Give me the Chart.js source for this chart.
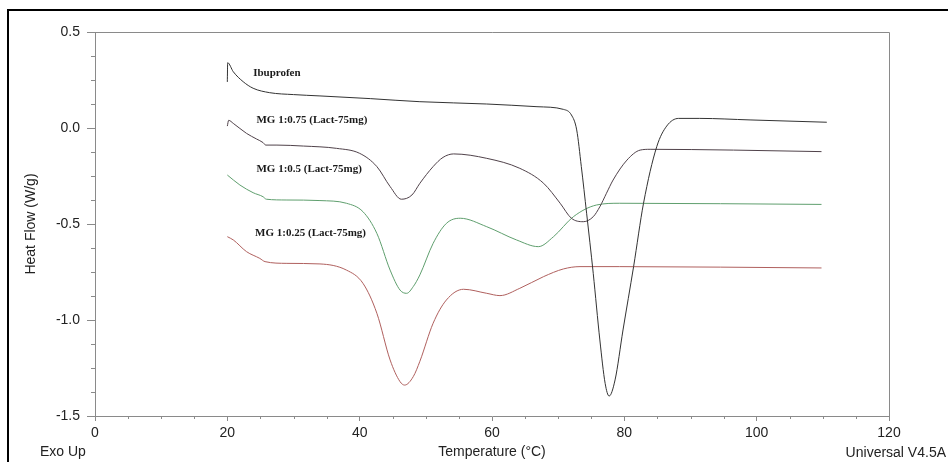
<!DOCTYPE html>
<html>
<head>
<meta charset="utf-8">
<script src="https://cdn.jsdelivr.net/npm/chart.js@4"></script>
<style>
  html, body { margin: 0; padding: 0; background: #fff; }
  #wrap { width: 948px; height: 462px; }
</style>
</head>
<body>
<div id="wrap"><canvas id="dscChart" width="948" height="462"></canvas></div>
<script>
// DSC traces (temperature in °C, heat flow in W/g)
const ibuTemp = [20.0, 20.05, 20.9, 22.4, 23.9, 26.4, 30, 34, 41.6, 49.1, 59.2, 66.8, 70.8, 72.0, 72.8, 73.5, 74.3, 75.3, 76.3, 77.1, 77.7, 78.6, 79.8, 81.4, 82.9, 84.9, 86.4, 88.2, 91.4, 99.0, 110.6];
const ibuHF = [0.24, 0.34, 0.293, 0.241, 0.207, 0.184, 0.174, 0.167, 0.153, 0.137, 0.125, 0.111, 0.097, 0.068, -0.010, -0.201, -0.444, -0.757, -1.104, -1.33, -1.396, -1.312, -1.052, -0.722, -0.392, -0.097, 0.010, 0.050, 0.050, 0.042, 0.030];

const mg075Temp = [20.0, 20.2, 20.9, 22.9, 24.4, 25.4, 25.8, 27.5, 31.5, 36.5, 40.0, 42.6, 44.6, 46.3, 47.9, 49.1, 51.1, 52.6, 54.2, 59.2, 64.2, 67.8, 70.3, 72.0, 73.8, 75.3, 76.3, 77.3, 78.3, 80.4, 82.4, 83.9, 96.5, 109.8];
const mg075HF = [0.01, 0.04, 0.024, -0.028, -0.057, -0.076, -0.089, -0.089, -0.094, -0.106, -0.132, -0.201, -0.305, -0.371, -0.349, -0.288, -0.201, -0.153, -0.135, -0.158, -0.210, -0.288, -0.392, -0.470, -0.488, -0.462, -0.41, -0.34, -0.271, -0.167, -0.115, -0.111, -0.115, -0.123];

const mg05Temp = [20.0, 21.9, 23.9, 25.4, 25.9, 29, 34, 38, 40.5, 42.6, 44.6, 46.1, 47.1, 48.1, 49.1, 51.1, 53.1, 55.2, 59.2, 63.7, 67.0, 69.3, 72.3, 75.8, 79.3, 109.8];
const mg05HF = [-0.245, -0.297, -0.337, -0.358, -0.371, -0.375, -0.378, -0.392, -0.436, -0.549, -0.740, -0.844, -0.861, -0.826, -0.765, -0.601, -0.497, -0.470, -0.514, -0.583, -0.618, -0.566, -0.462, -0.401, -0.392, -0.398];

const mg025Temp = [20.0, 20.9, 22.9, 24.9, 25.7, 29, 34, 38, 40.5, 42.6, 44.6, 46.1, 46.8, 48.1, 49.1, 51.1, 53.1, 55.7, 59.2, 61.2, 64.2, 67.8, 70.8, 73.3, 79.3, 109.8];
const mg025HF = [-0.566, -0.583, -0.644, -0.679, -0.696, -0.705, -0.708, -0.740, -0.809, -0.965, -1.208, -1.321, -1.339, -1.295, -1.215, -1.017, -0.896, -0.840, -0.861, -0.873, -0.835, -0.774, -0.734, -0.722, -0.722, -0.729];

// curve labels, placed at (temperature, heat flow)
const noteText = ['Ibuprofen', 'MG 1:0.75 (Lact-75mg)', 'MG 1:0.5 (Lact-75mg)', 'MG 1:0.25 (Lact-75mg)'];
const noteTemp = [23.9, 24.4, 24.4, 24.2];
const noteHF = [0.286, 0.042, -0.214, -0.547];

// axis ticks
const xMajor = [0, 20, 40, 60, 80, 100, 120];
const yMajor = [-1.5, -1.0, -0.5, 0.0, 0.5];

const pts = (xs, ys) => xs.map((x, i) => ({ x: x, y: ys[i] }));
const sans = '"Liberation Sans", Arial, sans-serif';
const axisGray = '#8a8a8a';
const textCol = '#222';

const decor = {
  id: 'decor',
  beforeDraw(chart) {
    const c = chart.ctx;
    c.save();
    c.fillStyle = '#fff';
    c.fillRect(0, 0, chart.width, chart.height);
    c.restore();
  },
  afterDraw(chart) {
    const c = chart.ctx;
    const a = chart.chartArea;
    const xs = chart.scales.x, ys = chart.scales.y;
    c.save();
    // top and right sides of the plot box
    c.strokeStyle = axisGray;
    c.lineWidth = 1;
    c.beginPath();
    c.moveTo(a.left, a.top + 0.5);
    c.lineTo(a.right + 0.5, a.top + 0.5);
    c.lineTo(a.right + 0.5, a.bottom);
    c.stroke();
    // minor ticks
    c.beginPath();
    for (let v = 0; v <= 120; v += 5) {
      if (v % 20 === 0) continue;
      const px = Math.round(xs.getPixelForValue(v)) + 0.5;
      c.moveTo(px, a.bottom);
      c.lineTo(px, a.bottom + 3);
    }
    for (let v = -1.5; v <= 0.5; v += 0.125) {
      if (Math.abs(v * 2 - Math.round(v * 2)) < 1e-6) continue;
      const py = Math.round(ys.getPixelForValue(v)) + 0.5;
      c.moveTo(a.left - 4, py);
      c.lineTo(a.left, py);
    }
    c.stroke();
    // outer frame
    c.strokeStyle = '#000';
    c.lineWidth = 2;
    c.beginPath();
    c.moveTo(8, chart.height);
    c.lineTo(8, 10);
    c.lineTo(chart.width, 10);
    c.stroke();
    // axis titles and footer texts
    c.fillStyle = textCol;
    c.font = '14px ' + sans;
    c.textBaseline = 'middle';
    c.textAlign = 'center';
    c.fillText('Temperature (\u00B0C)', (a.left + a.right) / 2, 452);
    c.textAlign = 'left';
    c.fillText('Exo Up', 40, 452);
    c.textAlign = 'right';
    c.fillText('Universal V4.5A', 946, 453);
    c.save();
    c.translate(31, (a.top + a.bottom) / 2);
    c.rotate(-Math.PI / 2);
    c.textAlign = 'center';
    c.fillText('Heat Flow (W/g)', 0, 0);
    c.restore();
    // curve labels
    c.font = 'bold 11px "Liberation Serif", "Times New Roman", serif';
    c.textAlign = 'left';
    c.fillStyle = '#1a1a1a';
    noteText.forEach((t, i) => {
      c.fillText(t, xs.getPixelForValue(noteTemp[i]), ys.getPixelForValue(noteHF[i]));
    });
    c.restore();
  }
};

const line = (label, xs, ys, color) => ({
  label: label,
  data: pts(xs, ys),
  borderColor: color,
  borderWidth: 1,
  pointRadius: 0,
  fill: false,
  cubicInterpolationMode: 'monotone'
});

const ctx = document.getElementById('dscChart').getContext('2d');
new Chart(ctx, {
  type: 'scatter',
  data: {
    datasets: [
      line('Ibuprofen', ibuTemp, ibuHF, '#333333'),
      line('MG 1:0.75 (Lact-75mg)', mg075Temp, mg075HF, '#50424a'),
      line('MG 1:0.5 (Lact-75mg)', mg05Temp, mg05HF, '#5f9f6e'),
      line('MG 1:0.25 (Lact-75mg)', mg025Temp, mg025HF, '#b0605e')
    ]
  },
  options: {
    responsive: false,
    animation: false,
    devicePixelRatio: 1,
    showLine: true,
    layout: { padding: { left: 0, right: 59, top: 32, bottom: 0 } },
    scales: {
      x: {
        type: 'linear',
        min: 0,
        max: 120,
        afterBuildTicks: s => { s.ticks = xMajor.map(v => ({ value: v })); },
        afterFit: s => { s.height = 46; },
        ticks: {
          color: textCol,
          font: { family: sans, size: 14 },
          padding: 4,
          maxRotation: 0,
          callback: v => String(v)
        },
        grid: { drawOnChartArea: false, color: axisGray, tickLength: 5, tickColor: axisGray },
        border: { color: axisGray, width: 1 }
      },
      y: {
        type: 'linear',
        min: -1.5,
        max: 0.5,
        afterBuildTicks: s => { s.ticks = yMajor.map(v => ({ value: v })); },
        afterFit: s => { s.width = 95; },
        ticks: {
          color: textCol,
          font: { family: sans, size: 14 },
          padding: 7,
          callback: v => Number(v).toFixed(1)
        },
        grid: { drawOnChartArea: false, color: axisGray, tickLength: 8, tickColor: axisGray },
        border: { color: axisGray, width: 1 }
      }
    },
    plugins: {
      legend: { display: false },
      tooltip: { enabled: false }
    }
  },
  plugins: [decor]
});
</script>
</body>
</html>
